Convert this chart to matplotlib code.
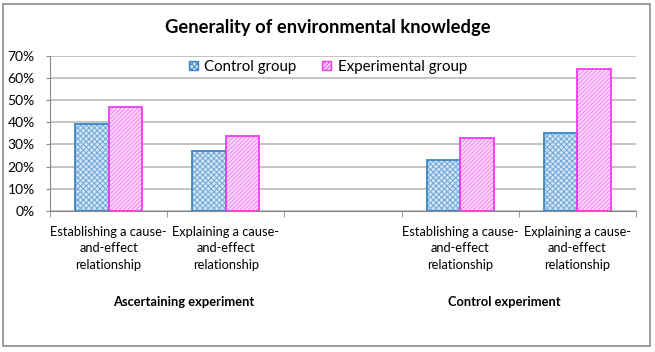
import matplotlib.pyplot as plt
import numpy as np
from matplotlib.patches import Rectangle

plt.rcParams['font.family'] = ['Lato', 'DejaVu Sans']
plt.rcParams['hatch.linewidth'] = 0.7

# data (empty slot in the middle separates the two experiments)
categories = ['Establishing a cause-\nand-effect\nrelationship',
              'Explaining a cause-\nand-effect\nrelationship',
              '',
              'Establishing a cause-\nand-effect\nrelationship',
              'Explaining a cause-\nand-effect\nrelationship']
control = [0.392, 0.272, np.nan, 0.232, 0.351]
experimental = [0.470, 0.340, np.nan, 0.331, 0.640]
groups = ['Ascertaining experiment', 'Control experiment']
group_pos = [1.143, 3.874]  # where the group labels sit along the x axis

fig = plt.figure(figsize=(6.55, 3.52), dpi=100)
ax = fig.add_axes([50/655, 1-211/352, 586/655, 155.3/352])

x = np.arange(len(categories)) + 0.5
w = 0.285
blue = '#3c85c6'
pink = '#f03cf0'
blue_fill, blue_hatch = '#d3e4f5', '#70a7d9'
pink_fill, pink_hatch = '#fcdcfc', '#f57ef5'

# hatched fill first (lighter hatch), then the solid outline on top
ax.bar(x - w/2, control, w, facecolor=blue_fill, edgecolor=blue_hatch,
       hatch='xxxxxx', linewidth=0, zorder=3)
ax.bar(x + w/2, experimental, w, facecolor=pink_fill, edgecolor=pink_hatch,
       hatch='////////', linewidth=0, zorder=3)
ax.bar(x - w/2, control, w, fill=False, edgecolor=blue, linewidth=1.3,
       zorder=4)
ax.bar(x + w/2, experimental, w, fill=False, edgecolor=pink, linewidth=1.3,
       zorder=4)

ax.set_xlim(0, 5)
ax.set_ylim(0, 0.7)
ax.set_yticks(np.arange(0, 0.71, 0.1))
ax.set_yticklabels([f'{int(round(v*100))}%' for v in np.arange(0, 0.71, 0.1)],
                   fontsize=10)
ax.yaxis.grid(True, color='#bfbfbf', linewidth=1.3, zorder=0)
ax.set_axisbelow(True)

ax.set_xticks(x)
ax.set_xticklabels(categories, fontsize=9.3, linespacing=1.42)
ax.set_xticks(np.arange(0, 6), minor=True)
ax.tick_params(axis='x', which='major', length=0, pad=11)
ax.tick_params(axis='x', which='minor', length=4, color='#888888', direction='out')
ax.tick_params(axis='y', length=3, color='#888888', pad=8)

for s in ['top', 'right']:
    ax.spines[s].set_visible(False)
ax.spines['left'].set_color('#888888')
ax.spines['bottom'].set_color('#888888')

for g, p in zip(groups, group_pos):
    ax.text(p, -91/155.3, g, ha='center', va='center', fontsize=9.3,
            fontweight='bold', transform=ax.get_xaxis_transform())

fig.text(0.5, 1-28/352, 'Generality of environmental knowledge',
         ha='center', va='center', fontsize=13.2, fontweight='bold')

# legend handles built from the same styling as the bars
h1 = Rectangle((0, 0), 1, 1, facecolor=blue_fill, edgecolor=blue,
               hatch='xxxxxx', linewidth=1)
h2 = Rectangle((0, 0), 1, 1, facecolor=pink_fill, edgecolor=pink,
               hatch='////////', linewidth=1)
ax.legend([h1, h2], ['Control group', 'Experimental group'],
          loc='center', bbox_to_anchor=(328/655, 1-67/352),
          bbox_transform=fig.transFigure, ncol=2, frameon=False,
          fontsize=10.8, handlelength=0.6, handleheight=0.6,
          handletextpad=0.45, columnspacing=1.7)

# outer chart border
fig.patches.append(Rectangle((3/655, 1-346/352), 647/655, 342/352,
                             transform=fig.transFigure, fill=False,
                             edgecolor='#8c8c8c', linewidth=1.2))

fig.savefig('out.png', dpi=100)
